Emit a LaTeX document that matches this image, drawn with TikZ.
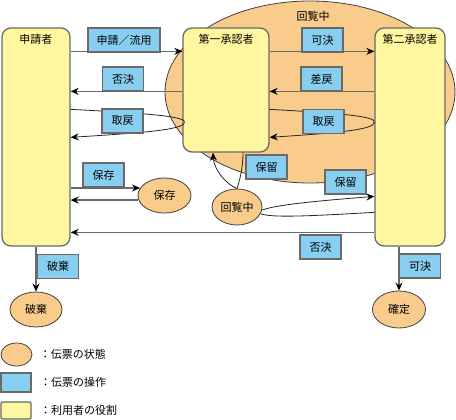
\documentclass[tikz,border=0pt]{standalone}
\usepackage{fontspec}
\setmainfont{Noto Sans CJK JP}
\usetikzlibrary{arrows.meta,positioning,shapes.geometric}

\definecolor{roleyellow}{RGB}{255,246,160}
\definecolor{stateorange}{RGB}{249,204,140}
\definecolor{opblue}{RGB}{135,206,240}
\definecolor{framegray}{RGB}{105,105,105}

\tikzset{
  role/.style={draw=framegray, line width=1.3pt, fill=roleyellow, rounded corners=9pt,
    label={[anchor=north, yshift=-3pt, font=\fontsize{11}{13}\selectfont]north:#1}},
  status/.style={ellipse, draw=black!75, line width=0.8pt, fill=stateorange, inner sep=0pt},
  oper/.style={draw=framegray, line width=1.3pt, fill=opblue, minimum width=41pt, minimum height=24pt, inner sep=0pt},
  flow/.style={draw=framegray, line width=1.3pt},
  loopline/.style={draw=black!85, line width=0.8pt},
  pointer/.style={-{Stealth[length=8pt, width=7pt, black]}}
}

\begin{document}
\begin{tikzpicture}[x=1pt, y=-1pt, every node/.style={font=\fontsize{11}{13}\selectfont}]
\useasboundingbox (0,0) rectangle (456,420);

% Circulation state behind the approvers
\node[status, minimum width=290pt, minimum height=182pt] (review) at (310,92) {};
\node (reviewname) at (313,16) {回覧中};

% Roles
\node[role=申請者, minimum width=68pt, minimum height=218pt] (applicant) at (36,137) {};
\node[role=第一承認者, minimum width=86pt, minimum height=124pt] (first) at (226,90) {};
\node[role=第二承認者, minimum width=70pt, minimum height=218pt] (second) at (410,137) {};

% States
\node[status, minimum width=53pt, minimum height=35pt] (store) at (164.5,195.5) {保存};
\node[status, minimum width=50pt, minimum height=36pt] (circ) at (237,207) {回覧中};
\node[status, minimum width=52pt, minimum height=35pt] (discard) at (36,309.5) {破棄};
\node[status, minimum width=53pt, minimum height=37pt] (fixed) at (399,309.5) {確定};

% Applicant <-> first approver
\draw[flow, pointer] ([yshift=-24pt]applicant.north east) -- ([yshift=-24pt]first.north west);
\draw[flow, pointer] ([yshift=-64pt]first.north west) -- ([yshift=-64pt]applicant.north east);
\draw[loopline, pointer] ([yshift=-82pt]applicant.north east) .. controls (140,113) and (187,116) .. ([xshift=2pt, yshift=-95pt]first.north west) .. controls (184,130) and (140,133) .. ([yshift=-110pt]applicant.north east);

% First approver <-> second approver
\draw[flow, pointer] ([yshift=-24pt]first.north east) -- ([yshift=-24pt]second.north west);
\draw[flow, pointer] ([yshift=-64pt]second.north west) -- ([yshift=-64pt]first.north east);
\draw[loopline, pointer] ([yshift=-82pt]first.north east) .. controls (335,113) and (377,116) .. ([yshift=-95pt]second.north west) .. controls (374,130) and (335,133) .. ([yshift=-110pt]first.north east);

% Save
\draw[flow, pointer] (store.163 -| applicant.east) -- (store.163);
\draw[flow, pointer] (store.190) -- (store.190 -| applicant.east);

% Hold
\draw[loopline] ([xshift=17pt]first.south) .. controls (243,170) and (239,182) .. (circ.north);
\draw[loopline, pointer] (circ.north) .. controls (226,184) and (214,170) .. ([xshift=-13pt]first.south);
\draw[loopline, pointer] (circ.-7) .. controls (278,204) and (330,200) .. ([yshift=-169pt]second.north west);
\draw[loopline] ([yshift=-185pt]second.north west) .. controls (310,216) and (272,218) .. (circ.-16);

% Rejection by second approver
\draw[flow, pointer] ([yshift=-205pt]second.north west) -- ([yshift=-205pt]applicant.north east);

% Final states
\draw[flow, pointer] (applicant.south) -- (discard.north);
\draw[flow, pointer] ([xshift=-11pt]second.south) -- (fixed.north);

% Operations
\node[oper, minimum width=72pt] (opapply) at (124,40) {申請／流用};
\node[oper] (opreject) at (123,79) {否決};
\node[oper] (opwithdraw) at (122.5,121) {取戻};
\node[oper] (opapprove) at (322.5,40) {可決};
\node[oper] (opreturn) at (321.5,79) {差戻};
\node[oper] (opwithdrawtwo) at (323.5,121.5) {取戻};
\node[oper] (opsave) at (103.5,175) {保存};
\node[oper] (ophold) at (266.5,167) {保留};
\node[oper] (ophodtwo) at (345.5,182) {保留};
\node[oper] (oprejecttwo) at (320.5,247) {否決};
\node[oper] (opdiscard) at (58,266.5) {破棄};
\node[oper] (opapprovetwo) at (420,266) {可決};

% Legend
\node[status, minimum width=31pt, minimum height=23pt] (keystate) at (16.5,354.5) {};
\node[oper, minimum width=30pt, minimum height=19pt] (keyop) at (16,382.5) {};
\node[draw=framegray, line width=1.3pt, fill=roleyellow, rounded corners=1pt, minimum width=30pt, minimum height=17pt] (keyrole) at (16,410.5) {};
\node[right=4pt of keystate] (keystatetext) {：伝票の状態};
\node[right=5pt of keyop] (keyoptext) {：伝票の操作};
\node[right=5pt of keyrole] (keyroletext) {：利用者の役割};

\end{tikzpicture}
\end{document}
